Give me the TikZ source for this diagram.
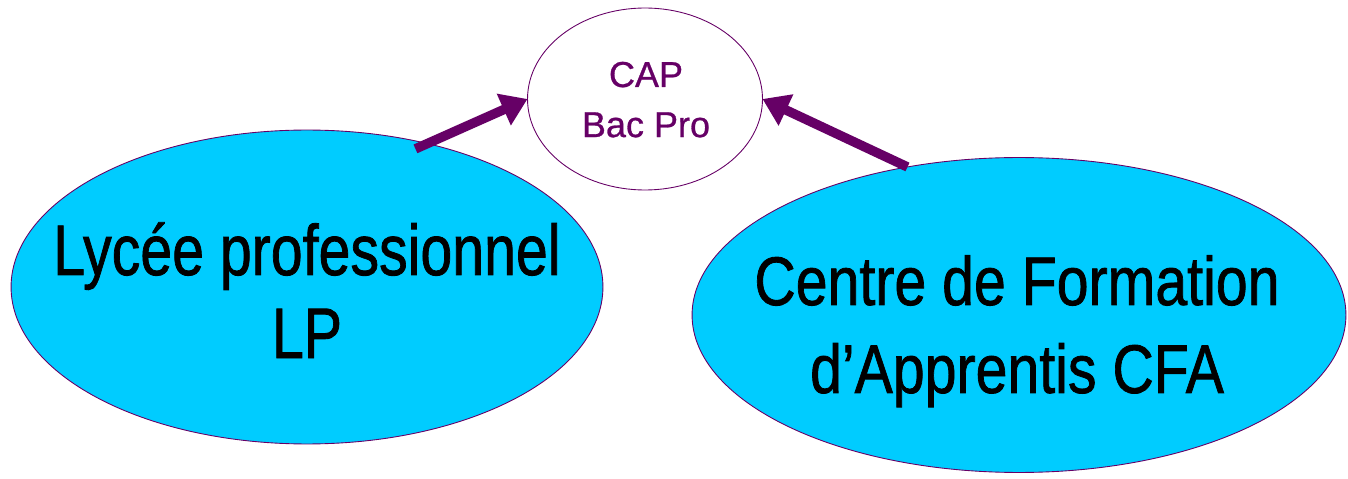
\documentclass[tikz,border=0pt]{standalone}
\usepackage{fontspec}
\setmainfont{Liberation Sans}
\usepackage{graphicx}
\usetikzlibrary{arrows.meta,shapes.geometric}
\definecolor{bleuciel}{HTML}{00CCFF}
\definecolor{prune}{HTML}{660066}
\tikzset{
	bulle/.style={ellipse, draw=prune, line width=0.5pt, fill=bleuciel, inner sep=0pt, outer sep=0pt},
	fleche/.style={draw=prune, line width=0.19cm, -{Triangle[length=0.52cm,width=0.66cm]}},
	grostexte/.style={anchor=base, font=\fontsize{32.6}{#1}\selectfont\addfontfeatures{FakeBold=1.2}},
}

\begin{document}
\begin{tikzpicture}[x=0.02cm, y=-0.02cm]
		%%%%% START %%%%%
		\useasboundingbox (0,0) rectangle (1348,479);
		
		% les trois bulles
		\node[bulle, fill=white, minimum width=4.7cm, minimum height=3.64cm] (cap) at (645,99) {};
		\node[bulle, minimum width=11.84cm, minimum height=6.28cm] (lp) at (307,287) {};
		\node[bulle, minimum width=13.08cm, minimum height=6.3cm] (cfa) at (1019,315) {};
		
		% les textes
		\node[anchor=base, text=prune, font=\fontsize{20.5}{28.5}\selectfont\addfontfeatures{FakeBold=0.8}] (captexte) at (646,87)
			{\begin{tabular}[t]{@{}c@{}}CAP\\Bac Pro\end{tabular}};
		\node[grostexte=37.8] (lptexte) at (307,275)
			{\scalebox{1}[1.25]{\begin{tabular}[t]{@{}c@{}}Lycée professionnel\\LP\end{tabular}}};
		\node[grostexte=41.7] (cfatexte) at (1017,305)
			{\scalebox{1}[1.2]{\begin{tabular}[t]{@{}c@{}}Centre de Formation\\d’Apprentis CFA\end{tabular}}};
		
		% les fleches
		\draw[fleche, shorten <=-0.26cm] (lp.50) -- (cap.west);
		\draw[fleche] (cfa.127) -- (cap.east);
		
		%%%%% END %%%%%
\end{tikzpicture}
\end{document}
